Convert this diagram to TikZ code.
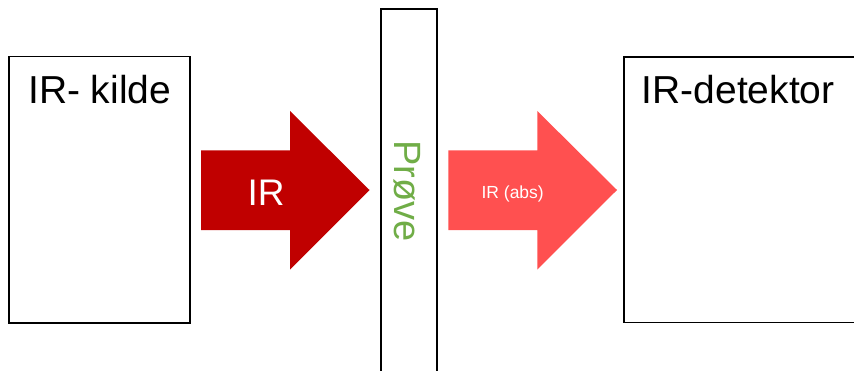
\documentclass[tikz,border=0pt]{standalone}
\usepackage{fontspec}
\setmainfont{Liberation Sans}
\definecolor{darkred}{HTML}{C00000}
\definecolor{lightred}{HTML}{FF5050}
\definecolor{probegreen}{HTML}{70AD47}
\begin{document}
\begin{tikzpicture}[x=1pt,y=1pt,
  box/.style={draw=black,line width=1.3pt,fill=white},
  bigtxt/.style={font=\fontsize{39}{39}\selectfont,inner sep=0pt},
  arrowshape/.style={draw=none}]
\useasboundingbox (0,0) rectangle (854,370);
% boxes
\draw[box] (9,313.5) rectangle (190,47);
\draw[box] (624,313) rectangle (860,47.5);
\draw[box,line width=1.6pt] (381,361) rectangle (437,-5);
% arrows
\fill[darkred] (201,219.5) -- (290,219.5) -- (290,259) -- (369.5,180) -- (290,100.5) -- (290,140) -- (201,140) -- cycle;
\fill[lightred] (448.3,219.5) -- (537.3,219.5) -- (537.3,259) -- (617,180) -- (537.3,100.5) -- (537.3,140) -- (448.3,140) -- cycle;
% labels
\node[bigtxt,anchor=base west] (kilde) at (28,266) {IR- kilde};
\node[bigtxt,anchor=base west] (detektor) at (641.5,266.5) {IR-detektor};
\node[bigtxt,anchor=base,text=white,font=\fontsize{37}{37}\selectfont] (ir) at (266,164.5) {IR};
\node[inner sep=0pt,anchor=base,text=white,font=\fontsize{17.5}{17.5}\selectfont] (irabs) at (512.7,171.7) {IR (abs)};
\node[bigtxt,anchor=base,rotate=-90,text=probegreen,font=\fontsize{38}{38}\selectfont] (prove) at (394,179) {Prøve};
\end{tikzpicture}
\end{document}
